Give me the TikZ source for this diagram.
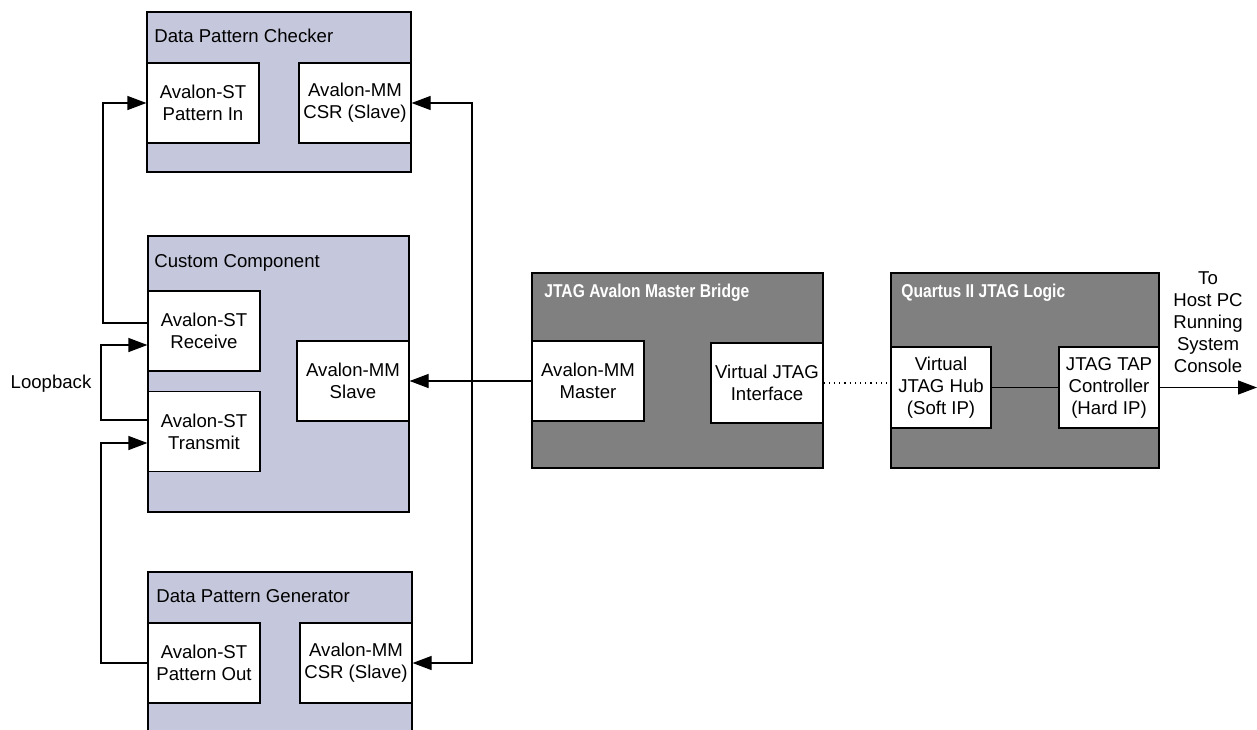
\documentclass[tikz,border=0pt]{standalone}
\usepackage{fontspec}
\setmainfont{Liberation Sans}
\newfontfamily\condfont[FakeStretch=0.84]{Liberation Sans Bold}
\usetikzlibrary{arrows.meta}
\definecolor{lav}{RGB}{197,200,220}
\definecolor{darkbox}{RGB}{128,128,128}
\tikzset{
  every node/.style={font=\fontsize{9.3}{11}\selectfont},
  outerbox/.style={draw=black, line width=0.6pt, fill=lav, inner sep=0pt},
  darkouter/.style={draw=black, line width=0.6pt, fill=darkbox, inner sep=0pt},
  inbox/.style={draw=black, line width=0.6pt, fill=white, align=center, inner sep=0pt, minimum width=56pt, minimum height=40pt},
  title/.style={anchor=west, inner sep=0pt},
  dtitle/.style={anchor=west, inner sep=0pt, text=white, font=\fontsize{9.3}{11}\condfont},
  conn/.style={line width=0.6pt},
  arr/.style={line width=0.6pt, -{Triangle[length=9.5pt,width=7pt]}},
}
\begin{document}
\begin{tikzpicture}[x=0.5pt,y=-0.5pt]
\useasboundingbox (0,0) rectangle (1257,729);
\clip (0,0) rectangle (1257,729);
% outer boxes
\node[outerbox, minimum width=132pt, minimum height=80pt] (chk) at (279,92) {};
\node[outerbox, minimum width=130.5pt, minimum height=138pt] (cust) at (278.5,374) {};
\node[outerbox, minimum width=132pt, minimum height=90pt] (gen) at (280,662) {};
\node[darkouter, minimum width=145.5pt, minimum height=97.5pt] (bridge) at (677.5,370.5) {};
\node[darkouter, minimum width=134pt, minimum height=97.5pt] (quartus) at (1025,370.5) {};
% titles
\node[title] (chkT) at (154,36) {Data Pattern Checker};
\node[title] (custT) at (154,263) {Custom Component};
\node[title] (genT) at (156,596) {Data Pattern Generator};
\node[dtitle] (bridgeT) at (544,293) {JTAG Avalon Master Bridge};
\node[dtitle] (quartusT) at (901,293) {Quartus II JTAG Logic};
% inner boxes
\node[inbox] (chkST) at (203,103) {Avalon-ST\\Pattern In};
\node[inbox] (chkMM) at (355,103) {Avalon-MM\\CSR (Slave)};
\node[inbox] (rx) at (204,331) {Avalon-ST\\Receive};
\node[inbox] (tx) at (204,431.5) {Avalon-ST\\Transmit};
\node[inbox] (slave) at (353,381) {Avalon-MM\\Slave};
\node[inbox] (genST) at (204,663) {Avalon-ST\\Pattern Out};
\node[inbox] (genMM) at (356,663) {Avalon-MM\\CSR (Slave)};
\node[inbox] (master) at (588,381) {Avalon-MM\\Master};
\node[inbox] (vji) at (767,383) {Virtual JTAG\\Interface};
\node[inbox, minimum width=50pt, minimum height=40.5pt] (hub) at (941,387.5) {Virtual\\JTAG Hub\\(Soft IP)};
\node[inbox, minimum width=50pt, minimum height=40.5pt] (tap) at (1109,387.5) {JTAG TAP\\Controller\\(Hard IP)};
% free labels
\node (loop) at (51,384) {Loopback};
\node[align=center] (host) at (1208,322) {To\\Host PC\\Running\\System\\Console};
% coordinates
\coordinate (lx) at (103,0);
\coordinate (llx) at (101,0);
\coordinate (rxx) at (472,0);
\coordinate (hostend) at (1257,388);
% connectors
\draw[arr] ([yshift=4pt]rx.west) -- ([yshift=4pt]rx.west -| lx) |- (chkST.west);
\draw[arr] ([yshift=5.75pt]tx.west) -- ([yshift=5.75pt]tx.west -| llx) |- ([yshift=-7pt]rx.west);
\draw[arr] (genST.west) -- (genST.west -| llx) |- ([yshift=-5.75pt]tx.west);
\draw[arr] (master.west) -- (slave.east);
\draw[arr] (slave.east -| rxx) |- (chkMM.east);
\draw[arr] (slave.east -| rxx) |- (genMM.east);
\draw[conn, dotted] (vji.east) -- (vji.east -| hub.west);
\draw[conn] (hub.east) -- (tap.west);
\draw[arr] (tap.east) -- (tap.east -| hostend);
\end{tikzpicture}
\end{document}
